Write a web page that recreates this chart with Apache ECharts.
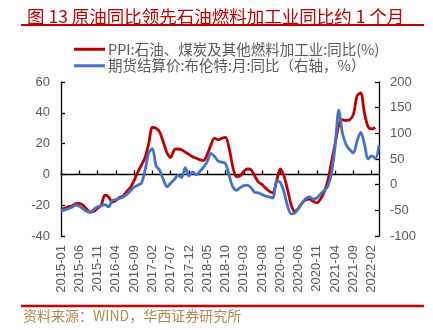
<!DOCTYPE html>
<html><head><meta charset="utf-8">
<script src="https://cdn.jsdelivr.net/npm/echarts@6/dist/echarts.min.js"></script>
<style>html,body{margin:0;padding:0;background:#fff}#c{width:433px;height:330px}</style>
</head><body><div id="c"></div>
<script>
// months 2015-01 .. 2022-04
var months = [];
for (var y = 2015; y <= 2022; y++) {
  for (var m = 1; m <= 12; m++) {
    if (y === 2022 && m > 4) break;
    months.push(y + '-' + (m < 10 ? '0' + m : m));
  }
}
var ppiName = 'PPI:石油、煤炭及其他燃料加工业:同比(%)';
var brentName = '期货结算价:布伦特:月:同比（右轴，%）';
// left axis, %, 2015-01 .. 2022-03
var ppi = [-22.5,-22,-21,-20.5,-19,-18.8,-20,-22.5,-24.5,-24,-22,-20,
  -13.5,-14.5,-18,-17,-15,-14,-11,-8.5,-4,1.5,6,11,
  20,30.5,30,27.5,21,14,11,16,16.5,16,14.5,13,
  11.5,10.5,9.5,9,13,19,23.5,22.5,23.5,24,17,5,
  -1.5,-1,2,3.5,3,-1,-5,-6.5,-9,-11,-12,-4,
  3.5,-1,-10,-20,-24,-22,-18.5,-16.5,-16,-17.5,-18.5,-16,
  -11.5,-4,8,20,32,35.5,35,35.5,39,51,53,40,
  31,29.5,30.5];
// right axis, %, 2015-01 .. 2022-04
var brent = [-52,-49,-47,-44,-40,-42,-47,-52,-54,-48,-43,-41,
  -39,-43,-31,-29,-27,-24,-19,-12,-5,-1,3,28,
  62,70,37,28,10,-4,3,10,18,14,33,17,
  25,19,26,34,45,61,55,46,44,41,18,-4,
  -11,-6,-2,-1,-6,-15,-16,-19,-22,-24,-26,8,
  4,-14,-42,-57,-55,-45,-36,-27,-24,-28,-26,-18,
  -12,-3,22,75,145,100,78,68,62,85,102,80,
  50,56,51,77];
var leftTicks = {min: -40, max: 60, interval: 20};
var rightTicks = {min: -100, max: 200, interval: 50};

var gray = '#595959';
var ff = '"Liberation Sans", Arial, "Noto Sans CJK SC", sans-serif';
var cjk = '"Noto Sans CJK SC", "Liberation Sans", sans-serif';
var chart = echarts.init(document.getElementById('c'), null, {renderer: 'canvas'});
chart.setOption({
  animation: false,
  backgroundColor: '#fff',
  title: {
    text: '图 13 原油同比领先石油燃料加工业同比约 1 个月',
    left: 22, top: 3,
    textStyle: {color: '#c00000', fontSize: 17.5, fontWeight: 'normal', fontFamily: cjk}
  },
  graphic: [
    {type: 'line', shape: {x1: 21, y1: 25, x2: 424, y2: 25}, style: {stroke: '#c00000', lineWidth: 2}},
    {type: 'line', shape: {x1: 21, y1: 306, x2: 424, y2: 306}, style: {stroke: '#d40000', lineWidth: 2.5}},
    {type: 'text', left: 23, top: 309, style: {text: '资料来源：WIND，华西证券研究所', fill: '#b08850', font: '14px ' + cjk}}
  ],
  legend: {
    orient: 'vertical', left: 69, top: 37,
    icon: 'rect', itemWidth: 31, itemHeight: 3, itemGap: 2,
    textStyle: {color: gray, fontSize: 14.5, fontFamily: cjk, padding: [0,0,0,-2]},
    data: [ppiName, brentName]
  },
  grid: {left: 61, right: 54, top: 82, bottom: 94, containLabel: false},
  xAxis: [
    {
      type: 'category', data: months, boundaryGap: false, position: 'bottom',
      axisLine: {show: false, onZero: false}, axisTick: {show: false},
      axisLabel: {rotate: 90, interval: 4, color: gray, fontSize: 13, fontFamily: ff, margin: 9}
    },
    {
      type: 'category', data: months, boundaryGap: false, position: 'bottom',
      axisLine: {show: true, onZero: true, onZeroAxisIndex: 0, lineStyle: {color: '#000', width: 1.3}},
      axisTick: {show: true, inside: true, interval: 4, length: 4, lineStyle: {color: '#000', width: 1.3}},
      axisLabel: {show: false}
    }
  ],
  yAxis: [
    {
      type: 'value', position: 'left', min: leftTicks.min, max: leftTicks.max, interval: leftTicks.interval,
      axisLine: {show: true, lineStyle: {color: '#000', width: 1.3}},
      axisTick: {show: true, inside: true, length: 4, lineStyle: {color: '#000', width: 1.3}},
      splitLine: {show: false},
      axisLabel: {color: gray, fontSize: 13, fontFamily: ff, margin: 11}
    },
    {
      type: 'value', position: 'right', min: rightTicks.min, max: rightTicks.max, interval: rightTicks.interval,
      axisLine: {show: true, lineStyle: {color: '#000', width: 1.3}},
      axisTick: {show: true, inside: true, length: 4, lineStyle: {color: '#000', width: 1.3}},
      splitLine: {show: false},
      axisLabel: {color: gray, fontSize: 13, fontFamily: ff, margin: 11}
    }
  ],
  series: [
    {name: ppiName, type: 'line', data: ppi, xAxisIndex: 0, yAxisIndex: 0, showSymbol: false,
      smooth: 0.3, lineStyle: {color: '#c00000', width: 2.8}, itemStyle: {color: '#c00000'}, z: 3},
    {name: brentName, type: 'line', data: brent, xAxisIndex: 0, yAxisIndex: 1, showSymbol: false,
      smooth: 0.3, lineStyle: {color: '#4472c4', width: 2.8}, itemStyle: {color: '#4472c4'}, z: 4}
  ]
});
</script></body></html>
